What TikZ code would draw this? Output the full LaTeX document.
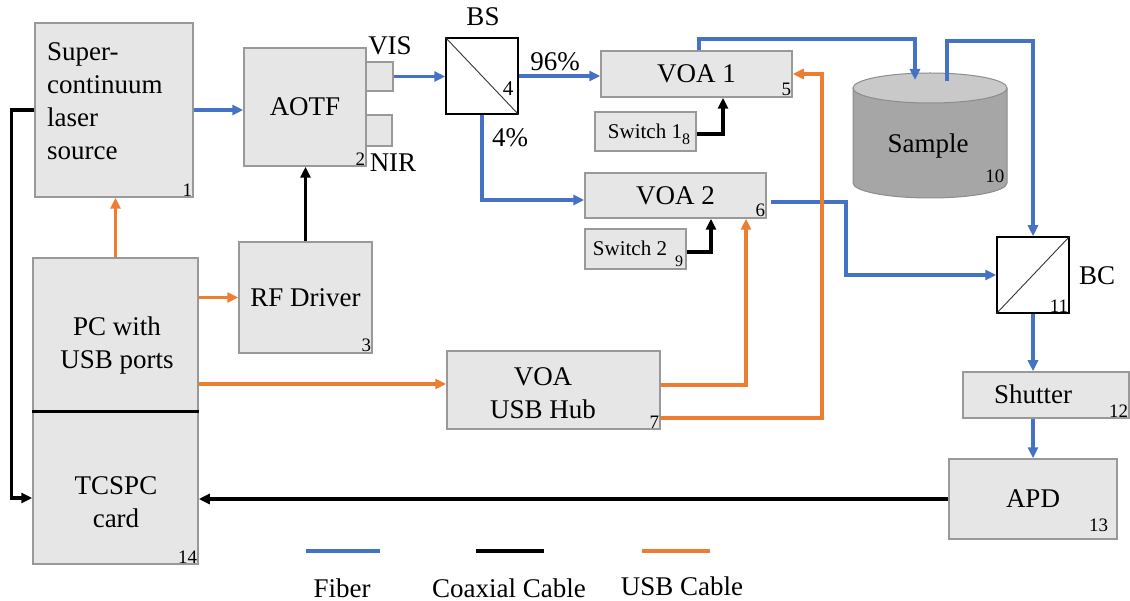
\documentclass[tikz,border=0pt]{standalone}
\usepackage{fontspec}
\setmainfont{LiberationSerif}[Extension=.ttf, UprightFont=*-Regular, BoldFont=*-Bold, ItalicFont=*-Italic, BoldItalicFont=*-BoldItalic]
\usetikzlibrary{arrows.meta}
\definecolor{fib}{HTML}{4472C4}
\definecolor{usb}{HTML}{ED7D31}
\definecolor{boxf}{HTML}{E6E6E6}
\definecolor{boxd}{HTML}{999999}
\definecolor{cylside}{HTML}{A6A6A6}
\definecolor{cyltop}{HTML}{C9C9C9}
\definecolor{cyledge}{HTML}{8C8C8C}
\tikzset{
  big/.style={font=\fontsize{27}{33}\selectfont},
  box/.style={draw=boxd, fill=boxf, line width=1.5pt, inner sep=0pt, align=center, big},
  splitter/.style={draw=black, fill=white, line width=1.5pt, inner sep=0pt},
  num/.style={font=\fontsize{19}{19}\selectfont, inner sep=1.5pt, anchor=south east},
  lbl/.style={big, inner sep=0pt},
  swtext/.style={font=\fontsize{21}{21}\selectfont, inner sep=0pt},
  subnum/.style={font=\fontsize{16}{16}\selectfont, inner sep=0pt},
  tip/.style={-{Triangle[length=11pt,width=10pt]}},
  fiber/.style={draw=fib, line width=3.5pt, tip},
  coax/.style={draw=black, line width=3.5pt, tip},
  usbc/.style={draw=usb, line width=3.5pt, tip},
}
\begin{document}
\begin{tikzpicture}[x=1pt, y=-1pt]
\useasboundingbox (0,0) rectangle (1130,601);

% boxes
\node[box, minimum width=158pt, minimum height=174pt] (src) at (114,110) {};
\node[big, align=left, anchor=west, inner sep=0pt] (srctext) at (47,101) {Super-\\continuum\\laser\\source};
\node[num] at (src.south east) {1};

\node[box, minimum width=122pt, minimum height=118pt] (aotf) at (305,107) {AOTF};
\node[num] at (aotf.south east) {2};
\node[box, minimum width=27pt, minimum height=29pt] (visp) at (379.5,76.5) {};
\node[box, minimum width=26pt, minimum height=31pt] (nirp) at (379,130.5) {};
\node[lbl] (vislbl) at (390,46) {VIS};
\node[lbl] (nirlbl) at (393,163) {NIR};

\node[box, minimum width=133pt, minimum height=111pt] (rf) at (305.5,297.5) {RF Driver};
\node[num] at (rf.south east) {3};

\node[splitter, minimum width=72pt, minimum height=76pt] (bs) at (482,76) {};
\draw[line width=0.9pt, black!80] (bs.north west) -- (bs.south east);
\node[font=\fontsize{21}{21}\selectfont, inner sep=0pt] at (508,89) {4};
\node[lbl] (bslbl) at (483,17) {BS};
\node[lbl] (p96) at (555,62) {96\%};
\node[lbl] (p4) at (510,138) {4\%};

\node[box, minimum width=191pt, minimum height=46pt] (voa1) at (696.5,74) {VOA 1};
\node[num] at (voa1.south east) {5};
\node[box, minimum width=101pt, minimum height=39pt] (sw1) at (645.5,131.5) {};
\node[swtext] (sw1t) at (645,131) {Switch 1};
\node[subnum] (sw1n) at (686,139) {8};

\node[box, minimum width=181pt, minimum height=45pt] (voa2) at (675.5,195.5) {VOA 2};
\node[num] at (voa2.south east) {6};
\node[box, minimum width=101pt, minimum height=40pt] (sw2) at (635.5,249) {};
\node[swtext] (sw2t) at (630,248) {Switch 2};
\node[subnum] (sw2n) at (679,261) {9};

\node[box, minimum width=213pt, minimum height=78pt] (hub) at (553.5,390) {};
\node[big, align=center, inner sep=0pt] (hubt) at (543,393) {VOA\\USB Hub};
\node[num] at (hub.south east) {7};

\node[box, minimum width=165pt, minimum height=153pt] (pc) at (115.5,334.5) {};
\node[box, minimum width=165pt, minimum height=153pt] (tcspc) at (115.5,487.5) {};
\draw[line width=3pt] (pc.south west) -- (pc.south east);
\node[big, align=center, inner sep=0pt] (pct) at (117,346) {PC with\\USB ports};
\node[big, align=center, inner sep=0pt] (tct) at (116,502) {TCSPC\\card};
\node[num] at (tcspc.south east) {14};

% sample cylinder
\fill[cylside] (853,88) -- (853,183) arc[start angle=180, end angle=360, x radius=77pt, y radius=15pt] -- (1007,88) -- cycle;
\draw[cyledge, line width=1pt] (853,88) -- (853,183) arc[start angle=180, end angle=360, x radius=77pt, y radius=15pt] -- (1007,88);
\draw[cyledge, fill=cyltop, line width=1pt] (930,88) ellipse [x radius=77pt, y radius=15pt];
\node[big, inner sep=0pt] (sample) at (928,146) {Sample};
\node[num] at (1006,184) {10};
\coordinate (smpin) at (915,80);
\coordinate (smpout) at (947,81);

\node[splitter, minimum width=72pt, minimum height=76pt] (bc) at (1033,275) {};
\draw[line width=0.9pt, black!80] (bc.south west) -- (bc.north east);
\node[num] at (bc.south east) {11};
\node[lbl] (bclbl) at (1097,276) {BC};

\node[box, minimum width=166pt, minimum height=46pt] (shutter) at (1046,395) {};
\node[big, inner sep=0pt] (shut) at (1033,394) {Shutter};
\node[num] at (shutter.south east) {12};

\node[box, minimum width=168pt, minimum height=80pt] (apd) at (1033,499) {APD};
\node[num] at ([xshift=-8pt,yshift=6pt]apd.south east) {13};

% fiber connections
\draw[fiber] (src.east) -- (aotf.west |- src.east);
\draw[fiber] (visp.east) -- (bs.west |- visp.east);
\draw[fiber] (bs.east) -- (voa1.west |- bs.east);
\draw[fiber] (bs.south) |- ([yshift=-4.5pt]voa2.west);
\draw[fiber] ([xshift=2.5pt]voa1.north) -- ++(0,-11) -| (smpin);
\draw[fiber] (smpout) -- ++(0,-40) -| (bc.north);
\draw[fiber] ([xshift=4pt,yshift=-6.5pt]voa2.east) -- ++(75,0) |- (bc.west);
\draw[fiber] (bc.south) -- (bc.south |- shutter.north);
\draw[fiber] (bc.south |- shutter.south) -- (apd.north);

% coaxial connections
\draw[coax] (rf.north) -- (rf.north |- aotf.south);
\draw[coax] ([yshift=-2.5pt]sw1.east) -| ([xshift=26.5pt]voa1.south);
\draw[coax] ([yshift=-3pt]sw2.east) -| ([xshift=35.5pt]voa2.south);
\draw[coax] (src.west) -- ++(-23,0) |- ([yshift=-10.5pt]tcspc.west);
\draw[coax] (apd.west) -- (tcspc.east |- apd.west);

% usb connections
\coordinate (pcusb) at ([yshift=-49.5pt]pc.east);
\draw[usbc] (pc.north) -- (pc.north |- src.south);
\draw[usbc] (pc.east |- rf.west) -- (rf.west);
\draw[usbc] (pcusb) -- (hub.west |- pcusb);
\draw[usbc] ([yshift=5pt]hub.east) -| ([xshift=70.5pt]voa2.south);
\draw[usbc] ([yshift=-28pt]hub.east) -| ([xshift=29pt]voa1.east) -- (voa1.east);

% legend
\coordinate (lf1) at (306,551); \coordinate (lf2) at (380,551);
\coordinate (lc1) at (476,551); \coordinate (lc2) at (544,551);
\coordinate (lu1) at (642,551); \coordinate (lu2) at (710,551);
\draw[fib, line width=3.5pt] (lf1) -- (lf2);
\draw[black, line width=3.5pt] (lc1) -- (lc2);
\draw[usb, line width=3.5pt] (lu1) -- (lu2);
\node[lbl] (lft) at (342,588) {Fiber};
\node[lbl] (lct) at (509,588) {Coaxial Cable};
\node[lbl] (lut) at (682,586) {USB Cable};
\end{tikzpicture}
\end{document}
